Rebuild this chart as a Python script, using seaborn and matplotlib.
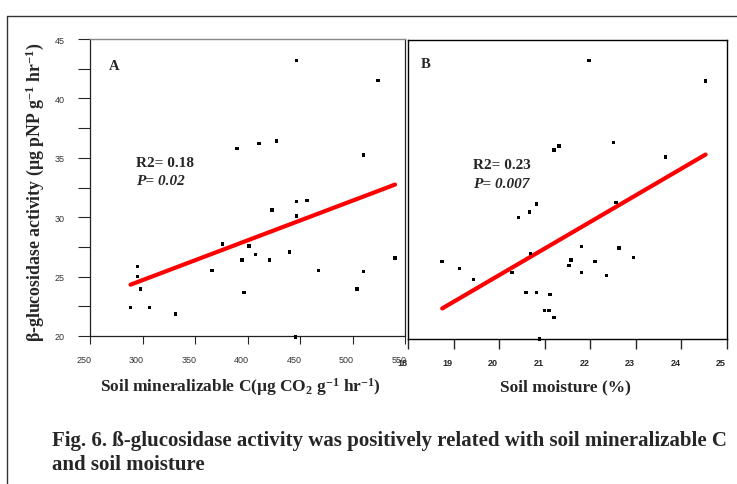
import numpy as np
import pandas as pd
import matplotlib
matplotlib.use("Agg")
import matplotlib.pyplot as plt
import matplotlib.transforms as mtransforms
import seaborn as sns
from matplotlib.lines import Line2D

# ---- data ----
mineral_c = [446.9, 524.2, 390.1, 410.9, 427.5, 510.5, 446.6, 456.8, 423.3, 446.6,
             376.4, 401.6, 439.9, 407.4, 394.6, 420.8, 540.5, 295.3, 366.2, 467.7,
             510.5, 295.3, 297.9, 504.1, 396.8, 288.6, 306.8, 331.7, 445.7]
activity_a = [43.2, 41.5, 35.8, 36.2, 36.4, 35.25, 31.3, 31.4, 30.6, 30.1,
              27.75, 27.56, 27.08, 26.85, 26.4, 26.4, 26.57, 25.87, 25.5, 25.5,
              25.42, 25.0, 23.96, 23.96, 23.65, 22.39, 22.39, 21.85, 19.92]

moisture = [21.97, 24.53, 21.20, 21.31, 22.51, 23.65, 20.82, 20.66, 20.42, 22.56,
            21.81, 22.63, 20.69, 22.95, 21.58, 22.10, 18.75, 21.53, 19.13, 20.28,
            21.81, 22.35, 19.44, 20.59, 20.82, 21.12, 20.99, 21.09, 21.20, 20.88]
activity_b = [43.2, 41.46, 35.67, 35.98, 36.29, 35.08, 31.12, 30.45, 29.97, 31.24,
              27.53, 27.42, 26.94, 26.6, 26.4, 26.26, 26.26, 25.96, 25.7, 25.34,
              25.34, 25.11, 24.75, 23.68, 23.68, 23.48, 22.13, 22.13, 21.55, 19.75]

xticks_a = [250, 300, 350, 400, 450, 500, 550]
xticks_b = [18, 19, 20, 21, 22, 23, 24, 25]
yticks = [20, 22.5, 25, 27.5, 30, 32.5, 35, 37.5, 40, 42.5, 45]
ytick_labels = ["20", "", "25", "", "30", "", "35", "", "40", "", "45"]

stats_a = ["R2= 0.18", "P= 0.02"]
stats_b = ["R2= 0.23", "P= 0.007"]

df_a = pd.DataFrame({"x": mineral_c, "y": activity_a})
df_b = pd.DataFrame({"x": moisture, "y": activity_b})

sns.set_style("ticks")
plt.rcParams["font.family"] = ["Liberation Serif", "DejaVu Serif"]
plt.rcParams["mathtext.fontset"] = "custom"
plt.rcParams["mathtext.rm"] = "Liberation Serif"
plt.rcParams["mathtext.bf"] = "Liberation Serif:bold"
plt.rcParams["mathtext.it"] = "Liberation Serif:italic"

W, H = 737, 485
fig = plt.figure(figsize=(W / 100, H / 100), dpi=100)

def fx(px):
    return px / W

def fy(py):
    return 1 - py / H

axA = fig.add_axes([fx(90), fy(337), fx(405) - fx(90), fy(40) - fy(337)])
axB = fig.add_axes([fx(408), fy(340), fx(727) - fx(408), fy(41) - fy(340)])

shift = mtransforms.ScaledTranslation(-6 / 100, 0, fig.dpi_scale_trans)

# Panel A
sns.scatterplot(data=df_a, x="x", y="y", ax=axA, marker="s", s=6,
                color="black", edgecolor="none", zorder=3, clip_on=False)
sns.regplot(data=df_a, x="x", y="y", ax=axA, scatter=False, ci=None,
            line_kws=dict(color="#ff0000", lw=3.0, solid_capstyle="round"))
axA.set_xlim(250, 550)
axA.set_ylim(20, 45)
axA.set_xticks(xticks_a)
axA.set_xticklabels([str(t) for t in xticks_a], family="Liberation Sans",
                    fontsize=6.5, color="#333333")
axA.set_yticks(yticks)
axA.set_yticklabels(ytick_labels, family="Liberation Sans", fontsize=6.5,
                    color="#333333")
axA.tick_params(axis="x", direction="out", length=6, width=0.8, pad=8)
axA.tick_params(axis="y", direction="out", length=9, width=0.8, pad=9)
for lab in axA.get_xticklabels():
    lab.set_transform(lab.get_transform() + shift)
axA.set_xlabel("")
axA.set_ylabel("")
for side in ["left", "right", "bottom"]:
    axA.spines[side].set_color("#222222")
    axA.spines[side].set_linewidth(0.9)
axA.spines["top"].set_color("#888888")
axA.spines["top"].set_linewidth(1.0)
axA.text(0.06, 0.91, "A", transform=axA.transAxes, fontsize=10.5,
         fontweight="bold", va="center")
axA.text(0.145, 0.585, stats_a[0], transform=axA.transAxes, fontsize=11,
         fontweight="bold", va="center")
axA.text(0.145, 0.525, stats_a[1], transform=axA.transAxes, fontsize=11,
         fontweight="bold", style="italic", va="center")

# Panel B
sns.scatterplot(data=df_b, x="x", y="y", ax=axB, marker="s", s=6,
                color="black", edgecolor="none", zorder=3, clip_on=False)
sns.regplot(data=df_b, x="x", y="y", ax=axB, scatter=False, ci=None,
            line_kws=dict(color="#ff0000", lw=3.0, solid_capstyle="round"))
axB.set_xlim(18, 25)
axB.set_ylim(19.75, 44.92)
axB.set_xticks(xticks_b)
axB.set_xticklabels([str(t) for t in xticks_b], family="Liberation Sans",
                    fontsize=6.5, fontweight="bold")
axB.set_yticks([])
axB.tick_params(axis="x", direction="out", length=7, width=1.0, pad=7)
for lab in axB.get_xticklabels():
    lab.set_transform(lab.get_transform() + shift)
axB.set_xlabel("")
axB.set_ylabel("")
for side in ["left", "right", "bottom", "top"]:
    axB.spines[side].set_color("black")
    axB.spines[side].set_linewidth(1.0)
axB.text(0.04, 0.923, "B", transform=axB.transAxes, fontsize=10.5,
         fontweight="bold", va="center")
axB.text(0.205, 0.585, stats_b[0], transform=axB.transAxes, fontsize=11,
         fontweight="bold", va="center")
axB.text(0.205, 0.52, stats_b[1], transform=axB.transAxes, fontsize=11,
         fontweight="bold", style="italic", va="center")

# axis titles and caption
fig.text(fx(35), fy(192),
         r"β-glucosidase activity (µg pNP g$^{\mathbf{-1}}$ hr$^{\mathbf{-1}}$)",
         rotation=90, ha="center", va="center", fontsize=12.8, fontweight="bold")
fig.text(fx(240), fy(387),
         r"Soil mineralizable C(µg CO$_{\mathbf{2}}$ g$^{\mathbf{-1}}$ hr$^{\mathbf{-1}}$)",
         ha="center", va="center", fontsize=12.5, fontweight="bold")
fig.text(fx(565), fy(387), "Soil moisture (%)", ha="center", va="center",
         fontsize=12.5, fontweight="bold")
fig.text(fx(52), fy(441),
         "Fig. 6. ß-glucosidase activity was positively related with soil mineralizable C",
         ha="left", va="center", fontsize=15, fontweight="bold")
fig.text(fx(52), fy(465), "and soil moisture", ha="left", va="center",
         fontsize=15, fontweight="bold")

# outer frame (top and left edges visible)
fig.add_artist(Line2D([fx(7), 1.0], [fy(17), fy(17)], color="#333333", lw=1.0))
fig.add_artist(Line2D([fx(7), fx(7)], [fy(17), 0.0], color="#333333", lw=1.0))

fig.savefig("out.png", dpi=100)
